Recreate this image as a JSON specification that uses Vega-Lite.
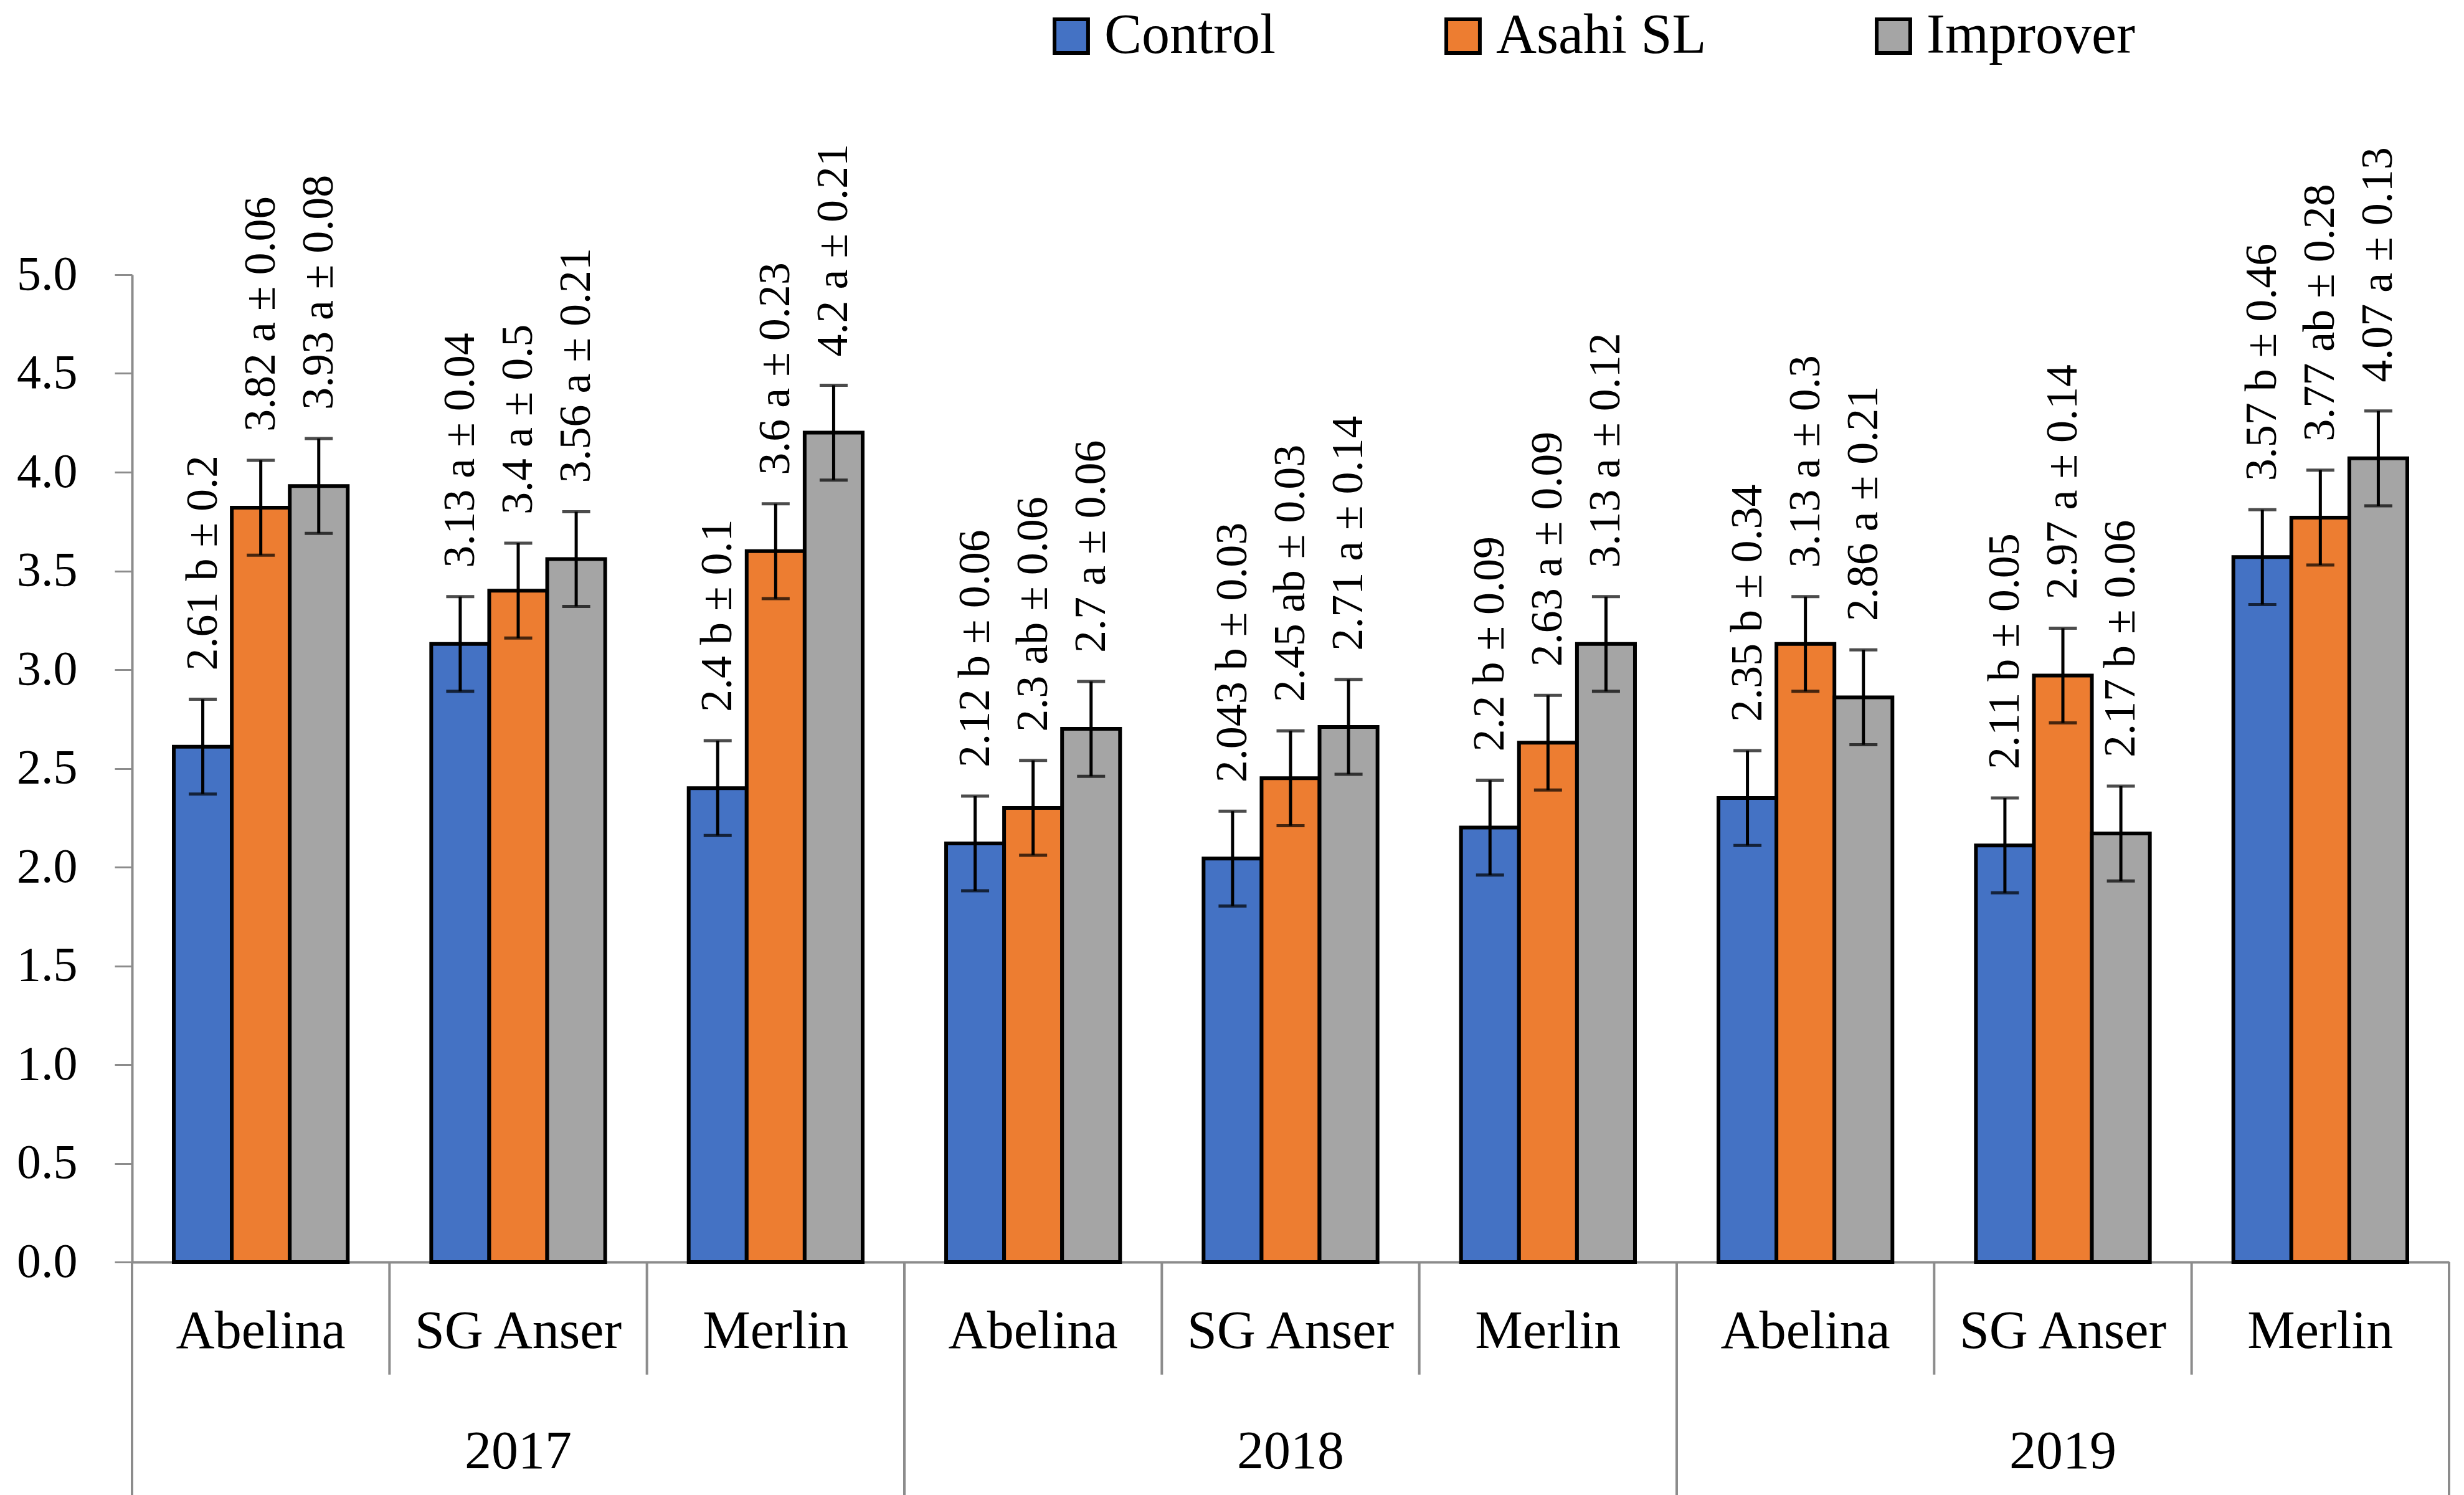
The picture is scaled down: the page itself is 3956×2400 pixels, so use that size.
{
  "$schema": "https://vega.github.io/schema/vega-lite/v6.json",
  "autosize": {"type": "none"},
  "padding": {"left": 212, "top": 441, "right": 24, "bottom": 374},
  "width": 3720,
  "height": 1585,
  "background": "white",
  "config": {
    "font": "Liberation Serif",
    "view": {"stroke": null},
    "axis": {"labelColor": "black", "labelFont": "Liberation Serif"}
  },
  "data": {
    "values": [
      {"group": "2017|Abelina", "year": "2017", "variety": "Abelina", "treatment": "Control", "value": 2.61, "lo": 2.37, "hi": 2.85, "label": "2.61 b ± 0.2"},
      {"group": "2017|Abelina", "year": "2017", "variety": "Abelina", "treatment": "Asahi SL", "value": 3.82, "lo": 3.58, "hi": 4.06, "label": "3.82 a ± 0.06"},
      {"group": "2017|Abelina", "year": "2017", "variety": "Abelina", "treatment": "Improver", "value": 3.93, "lo": 3.69, "hi": 4.17, "label": "3.93 a ± 0.08"},
      {"group": "2017|SG Anser", "year": "2017", "variety": "SG Anser", "treatment": "Control", "value": 3.13, "lo": 2.89, "hi": 3.37, "label": "3.13 a ± 0.04"},
      {"group": "2017|SG Anser", "year": "2017", "variety": "SG Anser", "treatment": "Asahi SL", "value": 3.4, "lo": 3.16, "hi": 3.64, "label": "3.4 a ± 0.5"},
      {"group": "2017|SG Anser", "year": "2017", "variety": "SG Anser", "treatment": "Improver", "value": 3.56, "lo": 3.32, "hi": 3.8, "label": "3.56 a ± 0.21"},
      {"group": "2017|Merlin", "year": "2017", "variety": "Merlin", "treatment": "Control", "value": 2.4, "lo": 2.16, "hi": 2.64, "label": "2.4 b ± 0.1"},
      {"group": "2017|Merlin", "year": "2017", "variety": "Merlin", "treatment": "Asahi SL", "value": 3.6, "lo": 3.36, "hi": 3.84, "label": "3.6 a ± 0.23"},
      {"group": "2017|Merlin", "year": "2017", "variety": "Merlin", "treatment": "Improver", "value": 4.2, "lo": 3.96, "hi": 4.44, "label": "4.2 a ± 0.21"},
      {"group": "2018|Abelina", "year": "2018", "variety": "Abelina", "treatment": "Control", "value": 2.12, "lo": 1.88, "hi": 2.36, "label": "2.12 b ± 0.06"},
      {"group": "2018|Abelina", "year": "2018", "variety": "Abelina", "treatment": "Asahi SL", "value": 2.3, "lo": 2.06, "hi": 2.54, "label": "2.3 ab ± 0.06"},
      {"group": "2018|Abelina", "year": "2018", "variety": "Abelina", "treatment": "Improver", "value": 2.7, "lo": 2.46, "hi": 2.94, "label": "2.7 a ± 0.06"},
      {"group": "2018|SG Anser", "year": "2018", "variety": "SG Anser", "treatment": "Control", "value": 2.043, "lo": 1.803, "hi": 2.283, "label": "2.043 b ± 0.03"},
      {"group": "2018|SG Anser", "year": "2018", "variety": "SG Anser", "treatment": "Asahi SL", "value": 2.45, "lo": 2.21, "hi": 2.69, "label": "2.45 ab ± 0.03"},
      {"group": "2018|SG Anser", "year": "2018", "variety": "SG Anser", "treatment": "Improver", "value": 2.71, "lo": 2.47, "hi": 2.95, "label": "2.71 a ± 0.14"},
      {"group": "2018|Merlin", "year": "2018", "variety": "Merlin", "treatment": "Control", "value": 2.2, "lo": 1.96, "hi": 2.44, "label": "2.2 b ± 0.09"},
      {"group": "2018|Merlin", "year": "2018", "variety": "Merlin", "treatment": "Asahi SL", "value": 2.63, "lo": 2.39, "hi": 2.87, "label": "2.63 a ± 0.09"},
      {"group": "2018|Merlin", "year": "2018", "variety": "Merlin", "treatment": "Improver", "value": 3.13, "lo": 2.89, "hi": 3.37, "label": "3.13 a ± 0.12"},
      {"group": "2019|Abelina", "year": "2019", "variety": "Abelina", "treatment": "Control", "value": 2.35, "lo": 2.11, "hi": 2.59, "label": "2.35 b ± 0.34"},
      {"group": "2019|Abelina", "year": "2019", "variety": "Abelina", "treatment": "Asahi SL", "value": 3.13, "lo": 2.89, "hi": 3.37, "label": "3.13 a ± 0.3"},
      {"group": "2019|Abelina", "year": "2019", "variety": "Abelina", "treatment": "Improver", "value": 2.86, "lo": 2.62, "hi": 3.1, "label": "2.86 a ± 0.21"},
      {"group": "2019|SG Anser", "year": "2019", "variety": "SG Anser", "treatment": "Control", "value": 2.11, "lo": 1.87, "hi": 2.35, "label": "2.11 b ± 0.05"},
      {"group": "2019|SG Anser", "year": "2019", "variety": "SG Anser", "treatment": "Asahi SL", "value": 2.97, "lo": 2.73, "hi": 3.21, "label": "2.97 a ± 0.14"},
      {"group": "2019|SG Anser", "year": "2019", "variety": "SG Anser", "treatment": "Improver", "value": 2.17, "lo": 1.93, "hi": 2.41, "label": "2.17 b ± 0.06"},
      {"group": "2019|Merlin", "year": "2019", "variety": "Merlin", "treatment": "Control", "value": 3.57, "lo": 3.33, "hi": 3.81, "label": "3.57 b ± 0.46"},
      {"group": "2019|Merlin", "year": "2019", "variety": "Merlin", "treatment": "Asahi SL", "value": 3.77, "lo": 3.53, "hi": 4.01, "label": "3.77 ab ± 0.28"},
      {"group": "2019|Merlin", "year": "2019", "variety": "Merlin", "treatment": "Improver", "value": 4.07, "lo": 3.83, "hi": 4.31, "label": "4.07 a ± 0.13"}
    ]
  },
  "encoding": {
    "x": {
      "field": "group",
      "type": "nominal",
      "sort": null,
      "scale": {"paddingInner": 0, "paddingOuter": 0},
      "axis": {
        "title": null,
        "labelAngle": 0,
        "labelExpr": "split(datum.value, '|')[1]",
        "labelFontSize": 86,
        "labelPadding": 69,
        "labelLimit": 0,
        "ticks": false,
        "domainColor": "#8c8c8c",
        "domainWidth": 4,
        "grid": false
      }
    }
  },
  "layer": [
    {
      "mark": {"type": "bar", "stroke": "black", "strokeWidth": 6},
      "encoding": {
        "xOffset": {"field": "treatment", "type": "nominal", "sort": ["Control", "Asahi SL", "Improver"], "scale": {"paddingOuter": 0.72, "paddingInner": 0}},
        "y": {
          "field": "value",
          "type": "quantitative",
          "scale": {"domain": [0, 5], "nice": false, "zero": true},
          "axis": {
            "title": null,
            "values": [0, 0.5, 1, 1.5, 2, 2.5, 3, 3.5, 4, 4.5, 5],
            "format": ".1f",
            "labelFontSize": 78,
            "labelPadding": 60,
            "tickSize": 28,
            "tickWidth": 3,
            "tickColor": "#8c8c8c",
            "domainColor": "#8c8c8c",
            "domainWidth": 4,
            "grid": false
          }
        },
        "color": {
          "field": "treatment",
          "type": "nominal",
          "scale": {"domain": ["Control", "Asahi SL", "Improver"], "range": ["#4472C4", "#ED7D31", "#A5A5A5"]},
          "legend": {
            "title": null,
            "orient": "none",
            "direction": "horizontal",
            "legendX": 1463,
            "legendY": -428,
            "symbolType": "square",
            "symbolSize": 2900,
            "symbolStrokeColor": "black",
            "symbolStrokeWidth": 6,
            "symbolOpacity": 1,
            "labelFontSize": 90,
            "labelFont": "Liberation Serif",
            "labelColor": "black",
            "labelOffset": 8,
            "columnPadding": 255,
            "padding": 0,
            "labelLimit": 0
          }
        }
      }
    },
    {
      "mark": {"type": "rule", "color": "black", "strokeWidth": 5},
      "encoding": {
        "xOffset": {"field": "treatment", "type": "nominal", "sort": ["Control", "Asahi SL", "Improver"], "scale": {"paddingOuter": 0.72, "paddingInner": 0}},
        "y": {"field": "lo", "type": "quantitative"},
        "y2": {"field": "hi"}
      }
    },
    {
      "mark": {"type": "tick", "orient": "horizontal", "color": "black", "thickness": 5, "size": 45},
      "encoding": {
        "xOffset": {"field": "treatment", "type": "nominal", "sort": ["Control", "Asahi SL", "Improver"], "scale": {"paddingOuter": 0.72, "paddingInner": 0}},
        "y": {"field": "lo", "type": "quantitative"}
      }
    },
    {
      "mark": {"type": "tick", "orient": "horizontal", "color": "black", "thickness": 5, "size": 45},
      "encoding": {
        "xOffset": {"field": "treatment", "type": "nominal", "sort": ["Control", "Asahi SL", "Improver"], "scale": {"paddingOuter": 0.72, "paddingInner": 0}},
        "y": {"field": "hi", "type": "quantitative"}
      }
    },
    {
      "mark": {"type": "text", "angle": 270, "align": "left", "baseline": "middle", "dx": 46, "fontSize": 72, "color": "black", "font": "Liberation Serif"},
      "encoding": {
        "xOffset": {"field": "treatment", "type": "nominal", "sort": ["Control", "Asahi SL", "Improver"], "scale": {"paddingOuter": 0.72, "paddingInner": 0}},
        "y": {"field": "hi", "type": "quantitative"},
        "text": {"field": "label"}
      }
    },
    {
      "transform": [{"filter": "datum.treatment == 'Control' && datum.variety != 'Abelina'"}],
      "mark": {"type": "rule", "color": "#8c8c8c", "strokeWidth": 4},
      "encoding": {
        "x": {"field": "group", "type": "nominal", "sort": null, "bandPosition": 0},
        "y": {"datum": 0},
        "y2": {"datum": -0.57}
      }
    },
    {
      "transform": [{"filter": "datum.treatment == 'Control' && datum.variety == 'Abelina'"}],
      "mark": {"type": "rule", "color": "#8c8c8c", "strokeWidth": 4},
      "encoding": {
        "x": {"field": "group", "type": "nominal", "sort": null, "bandPosition": 0},
        "y": {"datum": 0},
        "y2": {"datum": -1.2}
      }
    },
    {
      "transform": [{"filter": "datum.treatment == 'Control' && datum.variety == 'Merlin' && datum.year == '2019'"}],
      "mark": {"type": "rule", "color": "#8c8c8c", "strokeWidth": 4},
      "encoding": {
        "x": {"field": "group", "type": "nominal", "sort": null, "bandPosition": 1},
        "y": {"datum": 0},
        "y2": {"datum": -1.2}
      }
    },
    {
      "transform": [{"filter": "datum.treatment == 'Control' && datum.variety == 'SG Anser'"}],
      "mark": {"type": "text", "fontSize": 86, "baseline": "alphabetic", "align": "center", "color": "black", "font": "Liberation Serif"},
      "encoding": {
        "x": {"field": "group", "type": "nominal", "sort": null, "bandPosition": 0.5},
        "y": {"datum": -1.044},
        "text": {"field": "year"}
      }
    }
  ]
}
